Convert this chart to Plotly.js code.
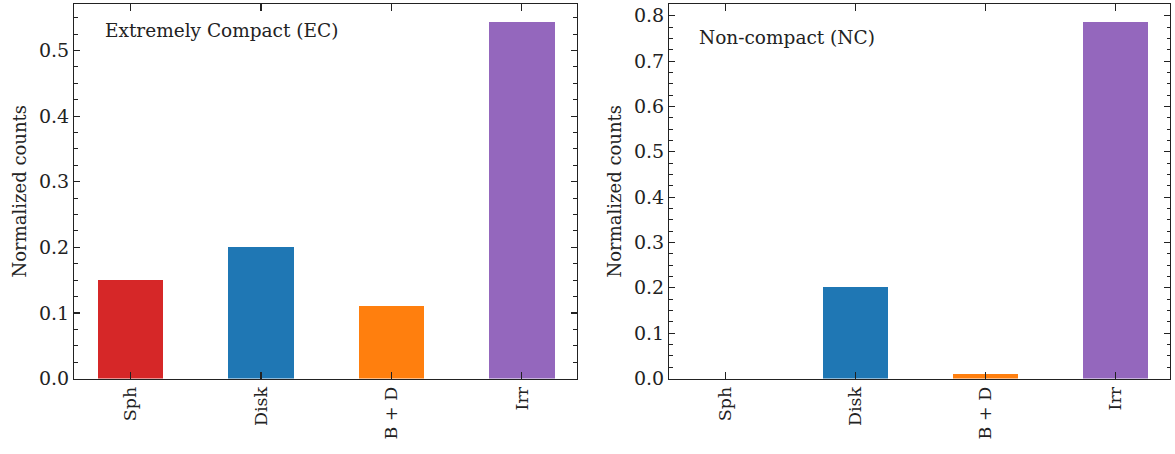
<!DOCTYPE html>
<html>
<head>
<meta charset="utf-8">
<script src="https://cdn.plot.ly/plotly-3.0.1.min.js"></script>
<style>html,body{margin:0;padding:0;background:#fff;}#chart{width:1175px;height:454px;}</style>
</head>
<body>
<div id="chart"></div>
<script>
var categories = ['Sph', 'Disk', 'B + D', 'Irr'];
var ecValues = [0.150, 0.200, 0.110, 0.543];
var ncValues = [0.0, 0.202, 0.011, 0.787];
var barColors = ['#d62728', '#1f77b4', '#ff7f0e', '#9467bd'];
var yTicksEC = [0.0, 0.1, 0.2, 0.3, 0.4, 0.5];
var yTicksNC = [0.0, 0.1, 0.2, 0.3, 0.4, 0.5, 0.6, 0.7, 0.8];
var panelTitles = ['Extremely Compact (EC)', 'Non-compact (NC)'];
var yTitle = 'Normalized counts';

var FONT = 'DejaVu Serif, serif';

var traces = [
  {type: 'bar', x: categories, y: ecValues, width: 0.5,
   marker: {color: barColors, line: {width: 0}}, xaxis: 'x', yaxis: 'y', hoverinfo: 'x+y'},
  {type: 'bar', x: categories, y: ncValues, width: 0.5,
   marker: {color: barColors, line: {width: 0}}, xaxis: 'x2', yaxis: 'y2', hoverinfo: 'x+y'}
];

function xAxis(domain, anchor) {
  return {
    domain: domain, anchor: anchor, type: 'category',
    range: [-0.43, 3.42],
    showgrid: false, zeroline: false,
    showline: true, linecolor: '#222', linewidth: 1.3, mirror: 'allticks',
    ticks: 'inside', ticklen: 7, tickwidth: 1.2, tickcolor: '#222',
    tickangle: -90,
    tickfont: {family: FONT, size: 17.5, color: '#222'},
    fixedrange: true
  };
}
function yAxis(domain, anchor, range, vals) {
  return {
    domain: domain, anchor: anchor,
    range: range,
    tickvals: vals, ticktext: vals.map(function(v){return v.toFixed(1);}),
    showgrid: false, zeroline: false,
    showline: true, linecolor: '#222', linewidth: 1.3, mirror: 'allticks',
    ticks: 'inside', ticklen: 6, tickwidth: 1.2, tickcolor: '#222',
    minor: {dtick: 0.025, tick0: 0, ticks: 'inside', ticklen: 3.5, tickwidth: 1, tickcolor: '#222', showgrid: false},
    tickfont: {family: FONT, size: 19, color: '#222'},
    title: {text: yTitle, font: {family: FONT, size: 18, color: '#222'}, standoff: 7},
    fixedrange: true
  };
}

var yDom = [1 - 378.5/454, 1 - 4/454];
var layout = {
  width: 1175, height: 454,
  margin: {l: 0, r: 0, t: 0, b: 0},
  paper_bgcolor: '#fff', plot_bgcolor: '#fff',
  showlegend: false,
  bargap: 0,
  xaxis: xAxis([74.3/1175, 576.7/1175], 'y'),
  yaxis: yAxis(yDom, 'x', [0, 0.571], yTicksEC),
  xaxis2: xAxis([669.3/1175, 1170/1175], 'y2'),
  yaxis2: yAxis(yDom, 'x2', [0, 0.826], yTicksNC),
  annotations: [
    {text: panelTitles[0], xref: 'paper', yref: 'paper', x: 103/1175, y: 1 - 31/454,
     xanchor: 'left', yanchor: 'middle', showarrow: false,
     font: {family: FONT, size: 18.5, color: '#222'}},
    {text: panelTitles[1], xref: 'paper', yref: 'paper', x: 697/1175, y: 1 - 38/454,
     xanchor: 'left', yanchor: 'middle', showarrow: false,
     font: {family: FONT, size: 18.5, color: '#222'}}
  ]
};

Plotly.newPlot('chart', traces, layout, {displayModeBar: false, staticPlot: true});
</script>
</body>
</html>
